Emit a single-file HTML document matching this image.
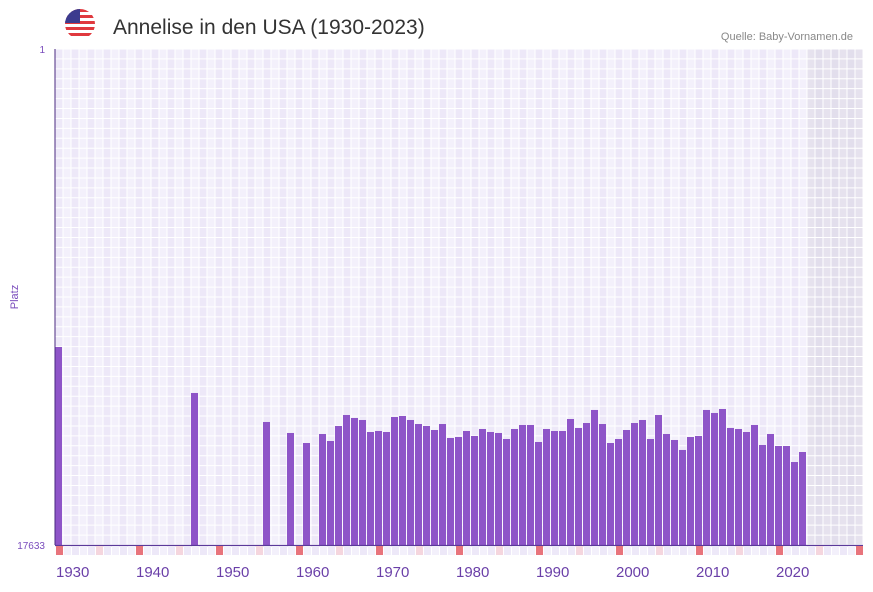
<!DOCTYPE html>
<html><head><meta charset="utf-8"><style>
body{margin:0;width:873px;height:587px;background:#fff;font-family:"Liberation Sans",sans-serif;overflow:hidden}
</style></head><body>
<svg width="873" height="587" xmlns="http://www.w3.org/2000/svg">
<g>
<clipPath id="fc"><circle cx="80" cy="24" r="15"/></clipPath>
<g clip-path="url(#fc)">
<rect x="65" y="9" width="30" height="30" fill="#fff"/>
<rect x="65" y="9" width="30" height="3" fill="#e0393e"/><rect x="65" y="15" width="30" height="3" fill="#e0393e"/><rect x="65" y="21" width="30" height="3" fill="#e0393e"/><rect x="65" y="27" width="30" height="3" fill="#e0393e"/><rect x="65" y="33" width="30" height="3" fill="#e0393e"/>
<rect x="65" y="9" width="15" height="14" fill="#3c3b8e"/>
</g></g>
<text x="113" y="34" font-size="21" fill="#333">Annelise in den USA (1930-2023)</text>
<text x="853" y="40" font-size="11" fill="#888" text-anchor="end">Quelle: Baby-Vornamen.de</text>
<text x="18" y="297" font-size="11" fill="#7a4cbc" text-anchor="middle" transform="rotate(-90 18 297)">Platz</text>
<g id="plot"></g>
</svg>
<script>
const years=[1930,1947,1956,1959,1961,1963,1964,1965,1966,1967,1968,1969,1970,1971,1972,1973,1974,1975,1976,1977,1978,1979,1980,1981,1982,1983,1984,1985,1986,1987,1988,1989,1990,1991,1992,1993,1994,1995,1996,1997,1998,1999,2000,2001,2002,2003,2004,2005,2006,2007,2008,2009,2010,2011,2012,2013,2014,2015,2016,2017,2018,2019,2020,2021,2022,2023];
const ranks=[10594,12229,13260,13651,14007,13687,13936,13403,13012,13118,13189,13616,13580,13616,13083,13047,13189,13332,13403,13545,13332,13829,13794,13580,13758,13509,13616,13651,13865,13509,13367,13367,13971,13509,13580,13580,13154,13474,13296,12833,13332,14007,13865,13545,13296,13189,13865,13012,13687,13900,14255,13794,13758,12833,12940,12798,13474,13509,13616,13367,14078,13687,14114,14114,14683,14327];
const yTicks=[1,17633];
const X0=55,CW=8,Y0=49,Y1=545,startYear=1930,endYear=2030,maxRank=17633;
const xs=y=>X0+(y-startYear)*CW;
const ys=r=>Y0+(r-1)/(maxRank-1)*(Y1-Y0);
const NS="http://www.w3.org/2000/svg";
const g=document.getElementById('plot');
function mk(t,a){const e=document.createElementNS(NS,t);for(const k in a)e.setAttribute(k,a[k]);g.appendChild(e);return e;}
for(let y=startYear;y<=endYear;y++){
  const c=mk('rect',{x:xs(y),y:Y0,width:CW,height:Y1-Y0,fill:y>=2024?((y%2)?'#e2deec':'#e6e2ee'):((y%2)?'#f3f0fb':'#ede8f8')});
  
  
}
for(let i=0;i<=50;i++){const yy=Y0+i*(Y1-Y0)/50;const l=mk('line',{x1:X0,x2:X0+101*CW,y1:yy,y2:yy,stroke:'#fff','stroke-width':1});

}
for(let y=startYear;y<=endYear+1;y++){const l=mk('line',{x1:xs(y),x2:xs(y),y1:Y0,y2:Y1,stroke:'#fff','stroke-width':1});

}
years.forEach((yr,i)=>{const t=ys(ranks[i]);const b=mk('rect',{x:xs(yr),y:t,width:CW-1,height:Y1-t,fill:'#8e55c8'});

});
mk('line',{x1:X0,x2:X0,y1:Y0,y2:Y1,stroke:'#4a2a80','stroke-width':1});
mk('line',{x1:X0,x2:X0+101*CW,y1:Y1+0.5,y2:Y1+0.5,stroke:'#5b3a9a','stroke-width':1.2});
for(let y=startYear;y<=endYear;y++){
  const m=y%10===0?'#e8747c':(y%10===5?'#f5d6de':(y%2?'#f3f0fb':'#ede8f8'));
  const r=mk('rect',{x:xs(y)+1,y:Y1+1,width:CW-1,height:9,fill:m});
  
  
  if(y%10===0&&y<endYear){const t=mk('text',{x:xs(y)+1,y:577,'font-size':15,fill:'#6a3fa8'});t.textContent=y;
  
  }
}
yTicks.forEach(v=>{const t=mk('text',{x:45,y:ys(v)+4,'font-size':10,fill:'#7a4cbc','text-anchor':'end'});t.textContent=v;

});
</script>
</body></html>
